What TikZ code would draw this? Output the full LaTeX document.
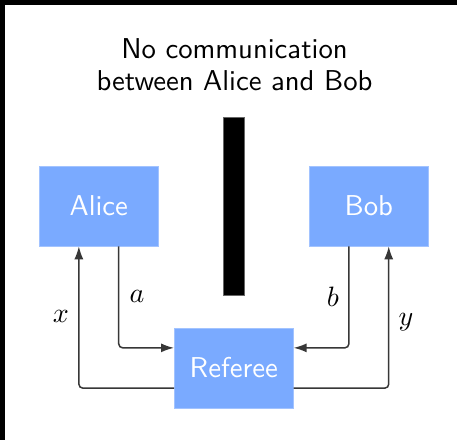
\documentclass[tikz,border=0pt]{standalone}
\usepackage{graphicx}
\usepackage{fontspec}
\setsansfont{lmsans10-regular.otf}
\usetikzlibrary{arrows.meta,calc}
\definecolor{boxblue}{RGB}{122,170,255}
\definecolor{linegray}{RGB}{55,55,55}
\newcommand{\biglbl}[1]{\scalebox{2.8}{$#1$}}
\tikzset{
  party/.style={fill=boxblue, draw=boxblue!70!white, line width=0.6pt, text=white,
    minimum width=119pt, minimum height=80pt, inner sep=0pt,
    font=\sffamily\fontsize{28.7}{32}\selectfont},
  conn/.style={draw=linegray, line width=1.5pt, rounded corners=4pt,
    -{Latex[length=13pt,width=9pt]}},
  lbl/.style={inner sep=0pt},
}
\begin{document}
\begin{tikzpicture}[x=1pt,y=-1pt]
\useasboundingbox (0,0) rectangle (457,440);
\fill[black] (0,0) rectangle (457,440);
\fill[white] (5,5) rectangle (457,440);
\node[anchor=north, align=center, inner sep=0pt, font=\sffamily\fontsize{28.7}{32}\selectfont]
  (title) at (234.5,38.5) {No communication\\between Alice and Bob};
\node[fill=black, draw=black!60, line width=0.5pt, minimum width=21pt, minimum height=178pt, inner sep=0pt]
  (wall) at (233.8,206) {};
\node[party] (Alice) at (98.8,206) {Alice};
\node[party] (Bob) at (368.8,206) {Bob};
\node[party] (Referee) at (233.8,368) {Referee};
\coordinate (aout) at ($(Alice.south west)!2/3!(Alice.south east)$);
\coordinate (xin) at ($(Alice.south west)!1/3!(Alice.south east)$);
\coordinate (bout) at ($(Bob.south west)!1/3!(Bob.south east)$);
\coordinate (yin) at ($(Bob.south west)!2/3!(Bob.south east)$);
\coordinate (rla) at ($(Referee.north west)!1/4!(Referee.south west)$);
\coordinate (rlx) at ($(Referee.north west)!3/4!(Referee.south west)$);
\coordinate (rrb) at ($(Referee.north east)!1/4!(Referee.south east)$);
\coordinate (rry) at ($(Referee.north east)!3/4!(Referee.south east)$);
\draw[conn] (aout) |- (rla);
\draw[conn] (rlx) -| (xin);
\draw[conn] (bout) |- (rrb);
\draw[conn] (rry) -| (yin);
\node[lbl] (la) at (137,296) {\biglbl{a}};
\node[lbl] (lx) at (61,316) {\biglbl{x}};
\node[lbl] (lb) at (333,297) {\biglbl{b}};
\node[lbl] (ly) at (406,322) {\biglbl{y}};
\end{tikzpicture}
\end{document}
